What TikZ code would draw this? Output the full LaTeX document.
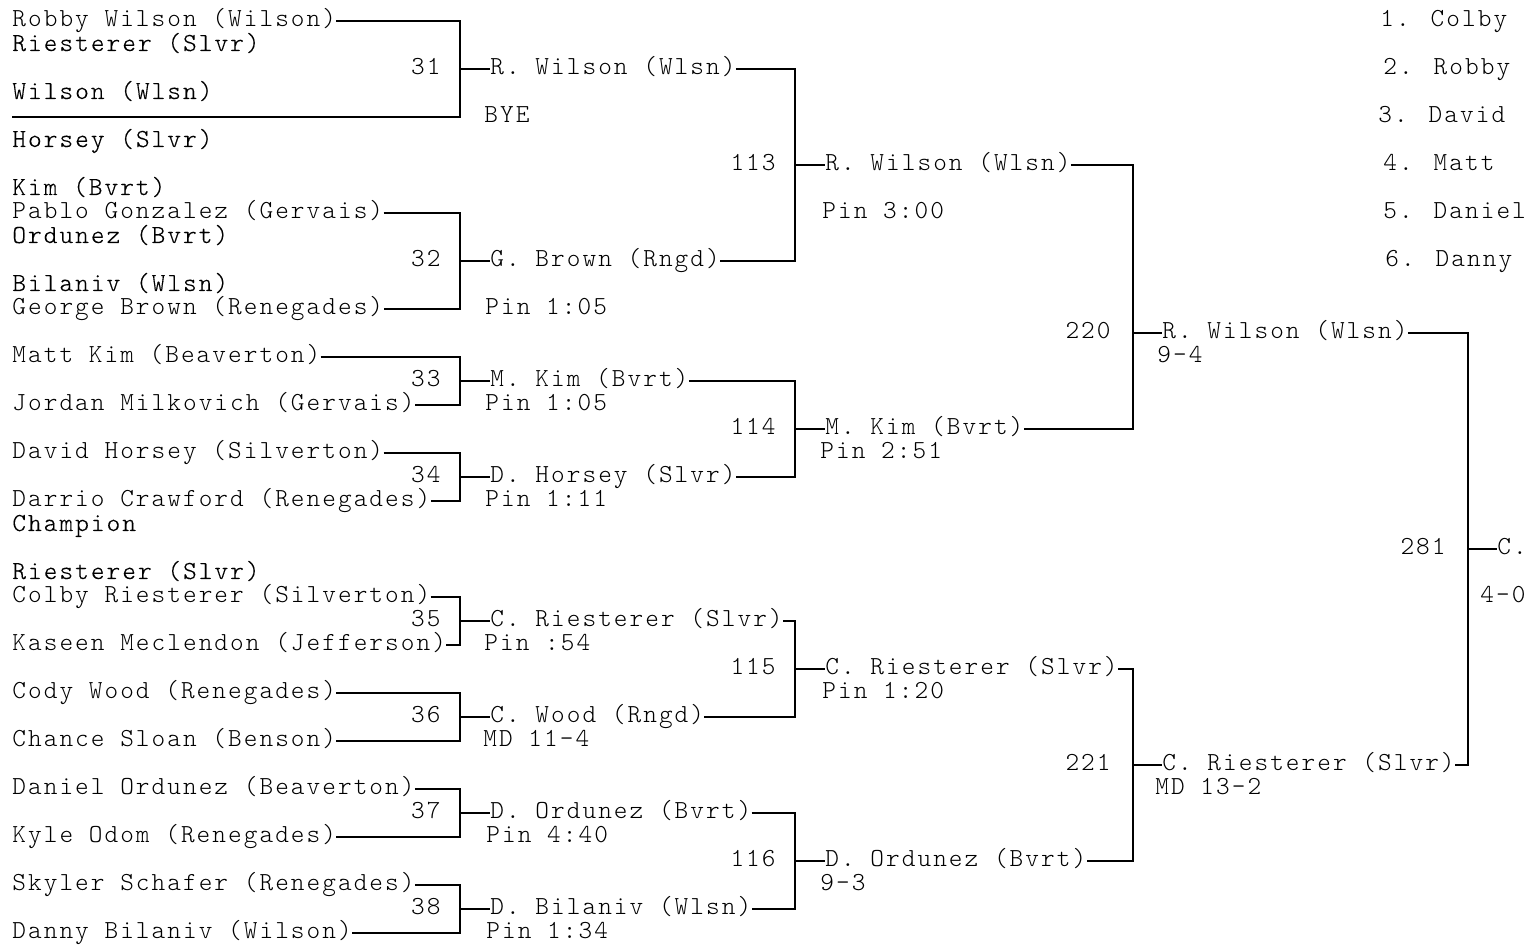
\documentclass[tikz,border=0pt]{standalone}
\usepackage{fontspec}
\newfontfamily\bracketfont[LetterSpace=7.9]{lmmonolt10-regular.otf}
\newfontfamily\placefont[LetterSpace=7.9, FakeBold=0.3]{lmmonolt10-regular.otf}
\usetikzlibrary{positioning, calc}

\tikzset{
  entrant/.style={anchor=west, inner sep=0pt, text height=7pt, text depth=1pt,
    font=\bracketfont\fontsize{13}{14}\selectfont},
  placer/.style={entrant, font=\placefont\fontsize{13}{14}\selectfont},
  winner/.style={entrant},
  result/.style={entrant},
  bout/.style={entrant, anchor=east},
  bline/.style={line width=0.65pt}
}

\begin{document}
\begin{tikzpicture}[x=0.5pt, y=-0.5pt]
  % page: 1539 x 945 px, rows every 24 px
  \useasboundingbox (0,0) rectangle (1539,945);

  % Entrants, first round
  \node[entrant] (e1)  at (12,21)  {Robby Wilson (Wilson)};
  \coordinate    (bye) at (12,117);
  \node[entrant] (e3)  at (12,213) {Pablo Gonzalez (Gervais)};
  \node[entrant] (e4)  at (12,309) {George Brown (Renegades)};
  \node[entrant] (e5)  at (12,357) {Matt Kim (Beaverton)};
  \node[entrant] (e6)  at (12,405) {Jordan Milkovich (Gervais)};
  \node[entrant] (e7)  at (12,453) {David Horsey (Silverton)};
  \node[entrant] (e8)  at (12,501) {Darrio Crawford (Renegades)};
  \node[entrant] (e9)  at (12,597) {Colby Riesterer (Silverton)};
  \node[entrant] (e10) at (12,645) {Kaseen Meclendon (Jefferson)};
  \node[entrant] (e11) at (12,693) {Cody Wood (Renegades)};
  \node[entrant] (e12) at (12,741) {Chance Sloan (Benson)};
  \node[entrant] (e13) at (12,789) {Daniel Ordunez (Beaverton)};
  \node[entrant] (e14) at (12,837) {Kyle Odom (Renegades)};
  \node[entrant] (e15) at (12,885) {Skyler Schafer (Renegades)};
  \node[entrant] (e16) at (12,933) {Danny Bilaniv (Wilson)};

  % Placings, wrapped into the left column
  \node[placer] (pl1) at (12,45)  {Riesterer (Slvr)};
  \node[placer] (pl2) at (12,93)  {Wilson (Wlsn)};
  \node[placer] (pl3) at (12,141) {Horsey (Slvr)};
  \node[placer] (pl4) at (12,189) {Kim (Bvrt)};
  \node[placer] (pl5) at (12,237) {Ordunez (Bvrt)};
  \node[placer] (pl6) at (12,285) {Bilaniv (Wlsn)};
  \node[placer] (champ)  at (12,525) {Champion};
  \node[placer] (champn) at (12,573) {Riesterer (Slvr)};

  % Placings, right column
  \node[entrant] (fp1) at (1380,21)  {1. Colby};
  \node[entrant] (fp2) at (1383,69)  {2. Robby};
  \node[entrant] (fp3) at (1378,117) {3. David};
  \node[entrant] (fp4) at (1383,165) {4. Matt};
  \node[entrant] (fp5) at (1383,213) {5. Daniel};
  \node[entrant] (fp6) at (1385,261) {6. Danny};

  % Round 1
  \coordinate (j31) at (460,69);
  \coordinate (j32) at (460,261);
  \coordinate (j33) at (460,381);
  \coordinate (j34) at (460,477);
  \coordinate (j35) at (460,621);
  \coordinate (j36) at (460,717);
  \coordinate (j37) at (460,813);
  \coordinate (j38) at (460,909);

  \node[bout] (b31) at (441,69)  {31};
  \node[bout] (b32) at (441,261) {32};
  \node[bout] (b33) at (441,381) {33};
  \node[bout] (b34) at (441,477) {34};
  \node[bout] (b35) at (441,621) {35};
  \node[bout] (b36) at (441,717) {36};
  \node[bout] (b37) at (441,813) {37};
  \node[bout] (b38) at (441,909) {38};

  \node[winner] (w31) at (490,69)  {R. Wilson (Wlsn)};
  \node[winner] (w32) at (490,261) {G. Brown (Rngd)};
  \node[winner] (w33) at (490,381) {M. Kim (Bvrt)};
  \node[winner] (w34) at (490,477) {D. Horsey (Slvr)};
  \node[winner] (w35) at (490,621) {C. Riesterer (Slvr)};
  \node[winner] (w36) at (490,717) {C. Wood (Rngd)};
  \node[winner] (w37) at (490,813) {D. Ordunez (Bvrt)};
  \node[winner] (w38) at (490,909) {D. Bilaniv (Wlsn)};

  \node[result] (r31) at (484,117) {BYE};
  \node[result] (r32) at (485,309) {Pin 1:05};
  \node[result] (r33) at (485,405) {Pin 1:05};
  \node[result] (r34) at (485,501) {Pin 1:11};
  \node[result] (r35) at (484,645) {Pin :54};
  \node[result] (r36) at (483,741) {MD 11-4};
  \node[result] (r37) at (486,837) {Pin 4:40};
  \node[result] (r38) at (486,933) {Pin 1:34};

  \draw[bline] (e1.east)  -| (j31) |- (bye)       (j31) -- (w31.west);
  \draw[bline] (e3.east)  -| (j32) |- (e4.east)   (j32) -- (w32.west);
  \draw[bline] (e5.east)  -| (j33) |- (e6.east)   (j33) -- (w33.west);
  \draw[bline] (e7.east)  -| (j34) |- (e8.east)   (j34) -- (w34.west);
  \draw[bline] (e9.east)  -| (j35) |- (e10.east)  (j35) -- (w35.west);
  \draw[bline] (e11.east) -| (j36) |- (e12.east)  (j36) -- (w36.west);
  \draw[bline] (e13.east) -| (j37) |- (e14.east)  (j37) -- (w37.west);
  \draw[bline] (e15.east) -| (j38) |- (e16.east)  (j38) -- (w38.west);

  % Round 2
  \coordinate (j113) at (795,165);
  \coordinate (j114) at (795,429);
  \coordinate (j115) at (795,669);
  \coordinate (j116) at (795,861);

  \node[bout] (b113) at (776,165) {113};
  \node[bout] (b114) at (776,429) {114};
  \node[bout] (b115) at (776,669) {115};
  \node[bout] (b116) at (776,861) {116};

  \node[winner] (w113) at (825,165) {R. Wilson (Wlsn)};
  \node[winner] (w114) at (825,429) {M. Kim (Bvrt)};
  \node[winner] (w115) at (825,669) {C. Riesterer (Slvr)};
  \node[winner] (w116) at (825,861) {D. Ordunez (Bvrt)};

  \node[result] (r113) at (822,213) {Pin 3:00};
  \node[result] (r114) at (820,453) {Pin 2:51};
  \node[result] (r115) at (822,693) {Pin 1:20};
  \node[result] (r116) at (820,885) {9-3};

  \draw[bline] (w31.east) -| (j113) |- (w32.east)  (j113) -- (w113.west);
  \draw[bline] (w33.east) -| (j114) |- (w34.east)  (j114) -- (w114.west);
  \draw[bline] (w35.east) -| (j115) |- (w36.east)  (j115) -- (w115.west);
  \draw[bline] (w37.east) -| (j116) |- (w38.east)  (j116) -- (w116.west);

  % Round 3
  \coordinate (j220) at (1133,333);
  \coordinate (j221) at (1133,765);

  \node[bout] (b220) at (1111,333) {220};
  \node[bout] (b221) at (1111,765) {221};

  \node[winner] (w220) at (1162,333) {R. Wilson (Wlsn)};
  \node[winner] (w221) at (1162,765) {C. Riesterer (Slvr)};

  \node[result] (r220) at (1157,357) {9-4};
  \node[result] (r221) at (1155,789) {MD 13-2};

  \draw[bline] (w113.east) -| (j220) |- (w114.east)  (j220) -- (w220.west);
  \draw[bline] (w115.east) -| (j221) |- (w116.east)  (j221) -- (w221.west);

  % Final
  \coordinate (j281) at (1468,549);
  \node[bout]   (b281) at (1446,549) {281};
  \node[winner] (w281) at (1497,549) {C.};
  \node[result] (r281) at (1480,597) {4-0};

  \draw[bline] (w220.east) -| (j281) |- (w221.east)  (j281) -- (w281.west);
\end{tikzpicture}
\end{document}
